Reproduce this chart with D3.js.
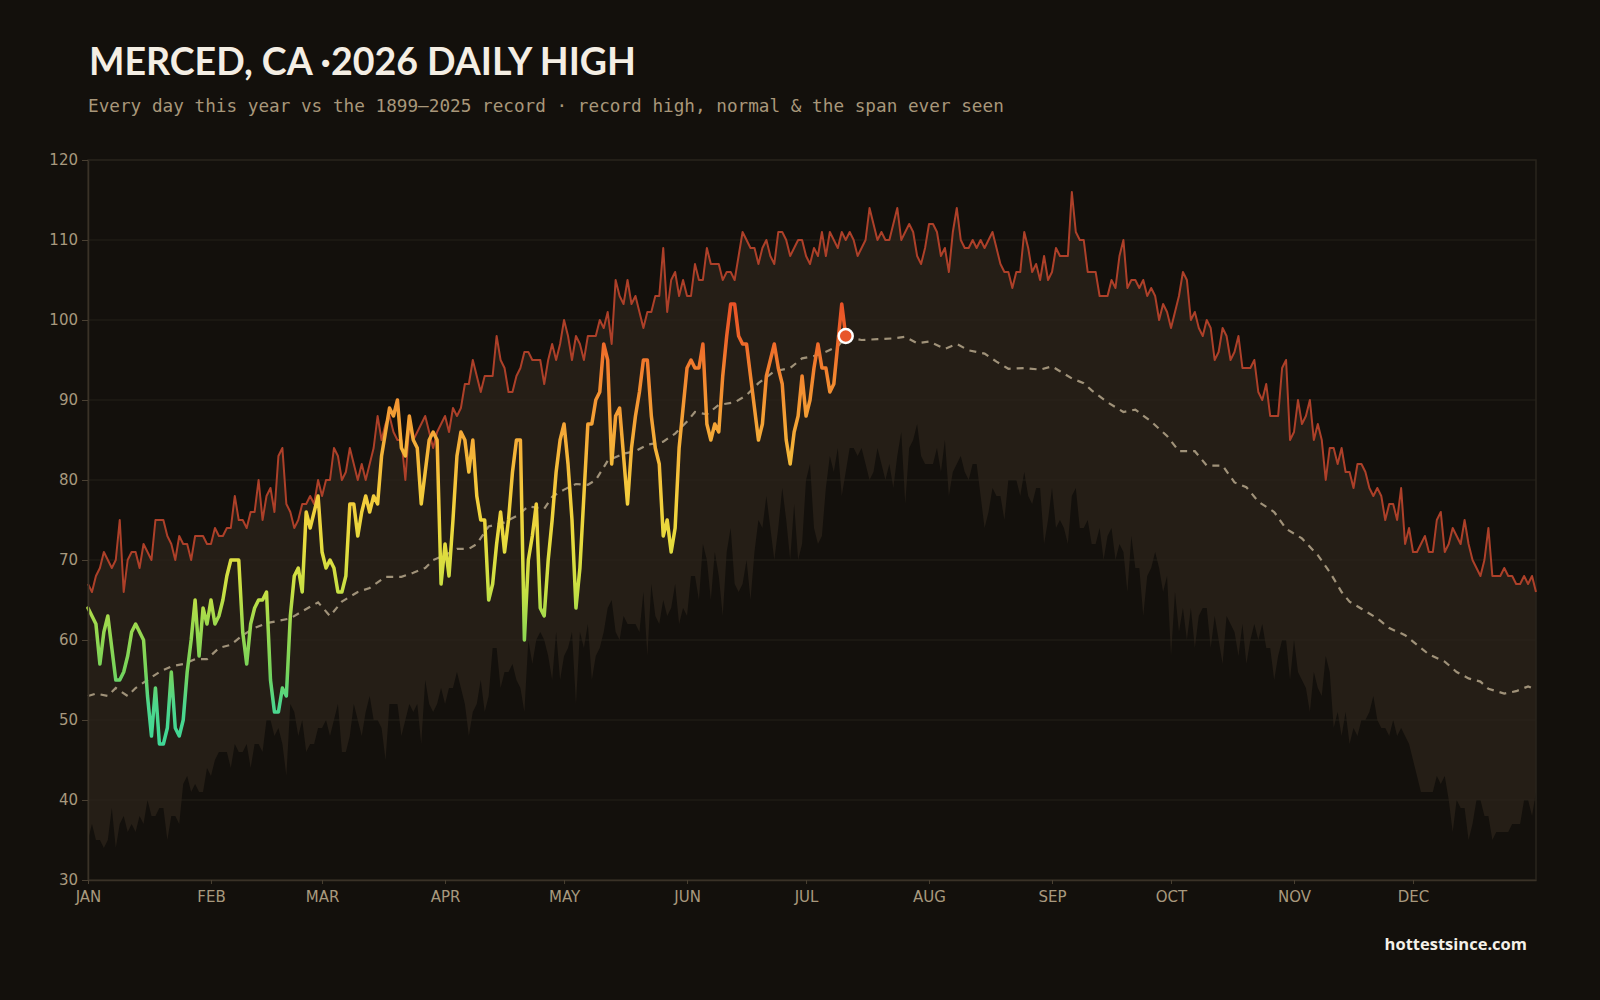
<!DOCTYPE html>
<html>
<head>
<meta charset="utf-8">
<script src="https://cdn.jsdelivr.net/npm/d3@7"></script>
<style>
  html, body { margin: 0; padding: 0; background: #13100c; }
  svg { display: block; }
</style>
</head>
<body>
<svg id="chart"></svg>
<script>
// record high of the daily high, 1899-2025 (one value per day of year, 366)
var recordHigh = [
  67,66,68,69,71,70,69,70,75,66, 70,71,71,69,72,71,70,75,75,75,
  73,72,70,73,72,72,70,73,73,73, 72,72,74,73,73,74,74,78,75,75,
  74,76,76,80,75,78,79,76,83,84, 77,76,74,75,77,77,78,77,80,78,
  80,80,84,83,80,81,84,82,80,82, 80,82,84,88,85,87,88,86,85,85,
  80,87,85,86,87,88,86,84,86,87, 88,86,89,88,89,92,92,95,93,91,
  93,93,93,98,95,94,91,91,93,94, 96,96,95,95,95,92,95,97,95,97,
  100,98,95,98,97,95,98,98,98,100, 99,101,97,105,103,102,105,102,103,101,
  99,101,101,103,103,109,101,105,106,103, 105,103,103,107,105,105,109,107,107,107,
  105,106,106,105,108,111,110,109,109,107, 109,110,108,107,111,111,110,
  108,109,110,110,108,107,109,108,111,108, 111,110,109,111,110,111,110,108,109,110,
  114,112,110,111,110,110,112,114,110,111, 112,111,108,107,109,112,112,111,108,109,
  106,111,114,110,109,109,110,109,110,109, 110,111,109,107,106,106,104,106,106,111,
  109,106,107,
  105,108,105,106,109,108,108,108,116,111, 110,110,106,106,106,103,103,103,105,104,
  108,110,104,105,105,104,105,103,104,103, 100,102,101,99,101,103,106,105,100,101,
  99,98,100,99,95,96,99,98,95,96, 98,94,94,94,95,91,90,92,88,88,
  88,94,95,
  85,86,90,87,88,90,85,87,85,80, 84,84,82,84,81,81,79,82,82,81,
  79,78,79,78,75,77,77,75,79,72, 74,71,71,72,73,71,71,75,76,71,
  72,74,73,72,75,72,70,69,68,70, 74,68,68,68,69,68,68,67,67,68,
  67,68,66
];

// lowest daily high ever seen (bottom of the span)
var recordLow = [
  35,37,35,35,34,35,39,34,37,38, 36,37,36,38,37,40,38,38,39,39,
  35,38,38,37,42,43,41,42,41,41, 44,43,45,46,46,46,44,47,46,46,
  47,44,47,47,46,50,50,48,49,47, 43,52,51,48,50,46,47,47,49,49,
  50,48,50,52,46,46,48,52,50,48, 51,53,50,50,49,45,52,52,52,48,
  50,52,51,52,47,55,52,51,52,54, 52,54,54,56,54,52,48,51,52,55,
  51,53,59,59,54,56,56,57,55,54, 51,60,57,60,
  61,60,58,55,61,55,58,59,61,52, 61,59,62,55,58,59,61,64,65,61,
  60,63,62,62,62,61,66,58,67,63, 62,65,63,64,67,62,64,63,68,68,
  65,72,70,65,71,68,63,71,74,67, 66,67,70,65,71,75,74,78,74,70,
  74,79,75,
  70,77,70,72,80,82,74,72,73,79, 83,81,84,78,81,84,84,83,84,82,
  80,81,84,82,80,82,79,83,86,77, 84,85,87,83,82,82,82,84,81,85,
  78,81,82,83,81,80,82,82,78,74, 76,79,78,78,75,80,80,80,78,81,
  78,77,79,
  79,72,75,79,74,75,74,72,78,79, 74,74,75,72,72,74,70,73,74,70,
  72,71,66,73,69,69,63,68,69,71, 69,66,68,58,66,61,64,60,64,59,
  63,64,64,59,63,60,57,63,62,61, 58,62,57,60,62,60,62,59,59,55,
  58,60,60,
  55,60,56,55,54,51,56,54,53,58, 56,49,51,48,51,47,49,48,50,50,
  51,53,50,49,49,48,50,48,49,48, 47,45,43,41,41,41,41,43,42,43,
  40,36,40,39,39,35,37,40,40,38, 38,35,36,36,36,36,37,37,37,40,
  40,38,41
];

// normal daily high, read at the day numbers below
var normalDays = [0,2,5,7,10,12,15,18,21,24,27,30,33,36,39,42,45,48,51,54,58,61,64,68,71,75,79,82,85,87,
  90,93,96,98,101,105,108,111,115,117,120,123,126,128,131,135,138,141,145,148,151,153,156,159,163,166,169,173,177,180,
  183,185,189,191,195,199,203,206,209,212,216,219,222,226,229,232,236,240,243,245,248,251,253,257,261,264,268,272,275,279,
  282,286,289,292,295,299,302,306,310,313,316,318,321,325,328,332,335,338,342,345,348,351,353,357,360,363,365];
var normalTemps = [53,53.3,53,54,53,54,55,56,56.7,57,57.6,57.6,59,59.4,60.6,61.5,62.1,62.4,62.7,63.6,64.7,63,64.8,66,66.5,67.9,67.9,68.4,69,70,
  70.6,71.4,71.4,72,74.2,74.7,75.5,76.7,76.4,77.9,78.8,79.5,79.4,80,82.4,83.3,83.6,84.4,84.8,85.8,87.3,88.5,88.2,89.4,89.7,90.6,92.1,93.6,94,95.2,
  95.5,95.8,96.7,97.9,97.5,97.6,97.7,97.9,97.1,97.3,96.4,97,96.2,95.8,94.8,93.9,94,93.8,94.2,93.6,92.7,92.1,91.2,89.7,88.5,88.8,87.3,85.5,83.6,83.6,
  81.8,81.8,79.7,79.1,77.3,76,73.9,72.7,70.6,68.5,66,64.8,63.9,62.7,61.5,60.6,59.4,58.2,57.3,56,55.2,54.8,53.9,53.3,53.6,54.2,53.8];

// 2026 daily highs, Jan 1 - Jul 11
var highs2026 = [
  64,63,62,57,61,63,59,55,55,56, 58,61,62,61,60,53,48,54,47,47,
  49,56,49,48,50,56,60,65,58,64, 62,65,62,63,65,68,70,70,70,61,
  57,62,64,65,65,66,55,51,51,54, 53,63,68,69,66,76,74,76,78,71,
  69,70,69,66,66,68,77,77,73,76, 78,76,78,77,83,86,89,88,90,84,
  83,88,85,84,77,81,85,86,85,67, 72,68,75,83,86,85,81,85,78,75,
  75,65,67,72,76,71,75,81,85,85, 60,70,73,77,64,63,70,75,81,85,
  87,82,75,64,69,78,87,87,90,91, 97,95,82,88,89,83,77,84,88,91,
  95,95,88,84,82,73,75,71,74,84, 89,94,95,94,94,97,87,85,87,86,
  93,98,102,102,98,97,97,93,89,85, 87,93,95,97,94,92,85,82,86,88,
  93,88,90,94,97,94,94,91,92,97, 102,98
];

var monthNames = ["JAN","FEB","MAR","APR","MAY","JUN","JUL","AUG","SEP","OCT","NOV","DEC"];
var monthStarts = [0,31,59,90,120,151,181,212,243,273,304,334];
var tempTicks = [30,40,50,60,70,80,90,100,110,120];

// colour of this year's line by temperature
var gradTemps = [45,52,56,62,66,72,78,85,92,98,103];
var gradColors = ["#3ad89b","#4ed68c","#76d45b","#9cd94e","#c6e044","#e6dc3e","#f4cc3c","#f5ad38","#f38b30","#ee6429","#e84e27"];

var width = 1600, height = 1000;
var margin = {top: 160, right: 64, bottom: 120, left: 88};

var svg = d3.select("#chart")
  .attr("width", width)
  .attr("height", height);

svg.append("rect")
  .attr("width", width)
  .attr("height", height)
  .attr("fill", "#13100c");

var x = d3.scaleLinear()
  .domain([0, 365])
  .range([margin.left, width - margin.right]);

var y = d3.scaleLinear()
  .domain([30, 120])
  .range([height - margin.bottom, margin.top]);

var defs = svg.append("defs");
var grad = defs.append("linearGradient")
  .attr("id", "tempGrad")
  .attr("gradientUnits", "userSpaceOnUse")
  .attr("x1", 0).attr("x2", 0)
  .attr("y1", y(gradTemps[0]))
  .attr("y2", y(gradTemps[gradTemps.length - 1]));
grad.selectAll("stop")
  .data(gradTemps)
  .enter().append("stop")
  .attr("offset", function(d) {
    return (d - gradTemps[0]) / (gradTemps[gradTemps.length - 1] - gradTemps[0]);
  })
  .attr("stop-color", function(d, i) { return gradColors[i]; });

// span between lowest and highest ever seen
var band = d3.area()
  .x(function(d, i) { return x(i); })
  .y0(function(d, i) { return y(recordLow[i]); })
  .y1(function(d) { return y(d); });

svg.append("path")
  .datum(recordHigh)
  .attr("fill", "#251e16")
  .attr("d", band);

// grid
svg.append("g")
  .selectAll("line")
  .data(tempTicks.slice(1, -1))
  .enter().append("line")
  .attr("x1", x(0)).attr("x2", x(365))
  .attr("y1", function(d) { return y(d); })
  .attr("y2", function(d) { return y(d); })
  .attr("stroke", "#2c251d")
  .attr("stroke-opacity", 0.75)
  .attr("stroke-width", 1);

// frame
svg.append("rect")
  .attr("x", x(0))
  .attr("y", y(120))
  .attr("width", x(365) - x(0))
  .attr("height", y(30) - y(120))
  .attr("fill", "none")
  .attr("stroke", "#2a241c")
  .attr("stroke-width", 1.5);

// normal
var normalLine = d3.line()
  .x(function(d, i) { return x(normalDays[i]); })
  .y(function(d) { return y(d); });

svg.append("path")
  .datum(normalTemps)
  .attr("fill", "none")
  .attr("stroke", "#a09279")
  .attr("stroke-width", 2.2)
  .attr("stroke-dasharray", "7,6")
  .attr("d", normalLine);

// record high
var dayLine = d3.line()
  .x(function(d, i) { return x(i); })
  .y(function(d) { return y(d); });

svg.append("path")
  .datum(recordHigh)
  .attr("fill", "none")
  .attr("stroke", "#ad4029")
  .attr("stroke-width", 2)
  .attr("stroke-linejoin", "round")
  .attr("d", dayLine);

// this year
svg.append("path")
  .datum(highs2026)
  .attr("fill", "none")
  .attr("stroke", "url(#tempGrad)")
  .attr("stroke-width", 3.5)
  .attr("stroke-linejoin", "round")
  .attr("stroke-linecap", "round")
  .attr("d", dayLine);

var last = highs2026.length - 1;
svg.append("circle")
  .attr("cx", x(last))
  .attr("cy", y(highs2026[last]))
  .attr("r", 7)
  .attr("fill", "#e8562a")
  .attr("stroke", "#ffffff")
  .attr("stroke-width", 2.5);

// axes
var yAxis = d3.axisLeft(y)
  .tickValues(tempTicks)
  .tickSize(6)
  .tickSizeOuter(0)
  .tickPadding(4);

var xAxis = d3.axisBottom(x)
  .tickValues(monthStarts)
  .tickFormat(function(d, i) { return monthNames[i]; })
  .tickSize(4)
  .tickSizeOuter(0)
  .tickPadding(7);

var gy = svg.append("g")
  .attr("transform", "translate(" + x(0) + ",0)")
  .call(yAxis);
var gx = svg.append("g")
  .attr("transform", "translate(0," + y(30) + ")")
  .call(xAxis);

[gy, gx].forEach(function(g) {
  g.select(".domain").attr("stroke", "#3a3227").attr("stroke-width", 1.5);
  g.selectAll(".tick line").attr("stroke", "#4a4032");
  g.selectAll(".tick text")
    .attr("fill", "#a8997e")
    .style("font-family", "'DejaVu Sans', sans-serif")
    .style("font-size", "15px");
});

// titles
svg.append("text")
  .attr("x", 89)
  .attr("y", 75)
  .attr("textLength", 547)
  .attr("lengthAdjust", "spacingAndGlyphs")
  .attr("fill", "#f4eee4")
  .style("font-family", "Lato, 'Open Sans', sans-serif")
  .style("font-weight", 700)
  .style("font-size", "38px")
  .text("MERCED, CA \u00b72026 DAILY HIGH");

svg.append("text")
  .attr("x", 88)
  .attr("y", 112)
  .attr("fill", "#a8977a")
  .style("font-family", "'DejaVu Sans Mono', monospace")
  .style("font-size", "17.7px")
  .text("Every day this year vs the 1899\u20132025 record \u00b7 record high, normal & the span ever seen");

svg.append("text")
  .attr("x", 1527)
  .attr("y", 950)
  .attr("text-anchor", "end")
  .attr("fill", "#f4f0e8")
  .style("font-family", "'Open Sans', sans-serif")
  .style("font-weight", 700)
  .style("font-size", "16.5px")
  .text("hottestsince.com");
</script>
</body>
</html>
